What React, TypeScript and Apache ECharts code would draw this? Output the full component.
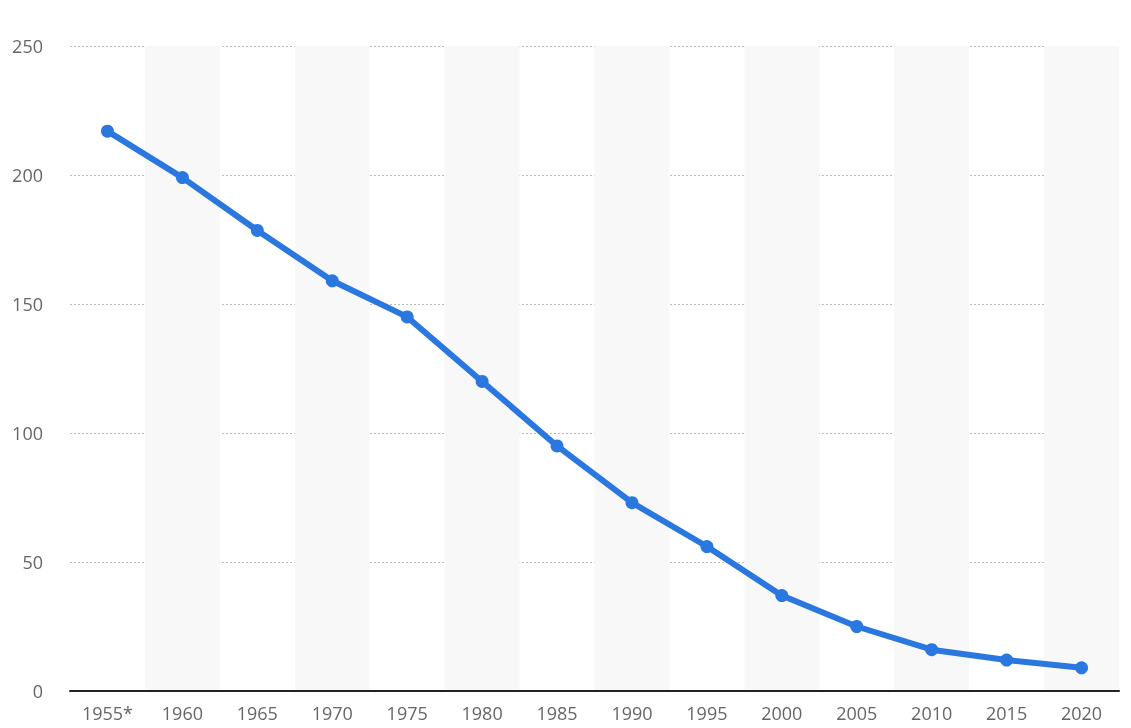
import React, { useEffect, useRef } from "react";
import * as echarts from "echarts";

const categories = ["1955*", "1960", "1965", "1970", "1975", "1980", "1985", "1990", "1995", "2000", "2005", "2010", "2015", "2020"];
const values = [217, 199, 178.5, 159, 145, 120, 95, 73, 56, 37, 25, 16, 12, 9];
const yTicks = { min: 0, max: 250, interval: 50 };

export default function App() {
  const ref = useRef<HTMLDivElement>(null);
  useEffect(() => {
    if (!ref.current) return;
    const chart = echarts.init(ref.current, null, { renderer: "svg" });
    chart.setOption({
      animation: false,
      grid: { left: 70, right: 12, top: 46, bottom: 37, containLabel: false },
      xAxis: {
        type: "category",
        data: categories,
        boundaryGap: true,
        axisLine: { show: true, lineStyle: { color: "#222", width: 2 } },
        axisTick: { show: false },
        axisLabel: { color: "#666", fontSize: 18, fontFamily: "Open Sans", margin: 12, lineHeight: 20 },
        splitLine: { show: false },
        splitArea: { show: true, areaStyle: { color: ["rgba(255,255,255,0)", "#f8f8f8"] } },
      },
      yAxis: {
        type: "value",
        min: yTicks.min,
        max: yTicks.max,
        interval: yTicks.interval,
        axisLine: { show: false },
        axisTick: { show: false },
        axisLabel: { color: "#666", fontSize: 18, fontFamily: "Open Sans", margin: 27 },
        splitLine: { show: true, lineStyle: { color: "#bbb", type: [2, 2], width: 1 } },
      },
      series: [
        {
          type: "line",
          data: values,
          lineStyle: { color: "#2a77e0", width: 6 },
          itemStyle: { color: "#2a77e0" },
          symbol: "circle",
          symbolSize: 13,
          showSymbol: true,
          z: 3,
        },
      ],
    });
    return () => chart.dispose();
  }, []);
  return <div ref={ref} style={{ position: "fixed", left: 0, top: 0, width: 1131, height: 728 }} />;
}
